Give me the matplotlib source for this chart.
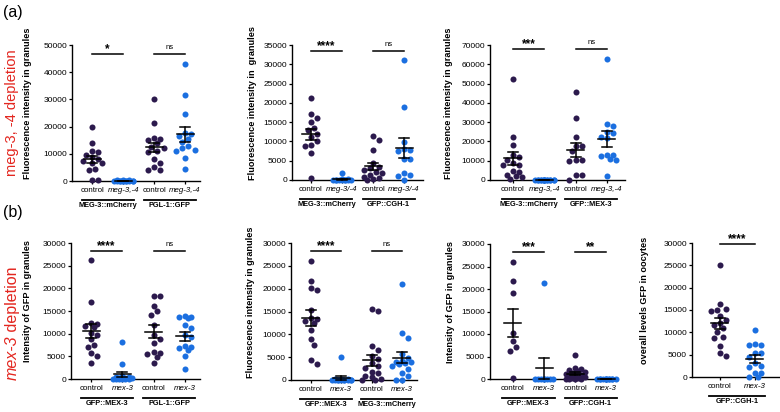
import numpy as np
import matplotlib.pyplot as plt

plt.rcParams['font.family'] = ['Liberation Sans', 'DejaVu Sans']

W, H = 780, 412
PURPLE = '#2c1a4d'
BLUE = '#1b6fe0'
RED = '#e3261f'

# ---- data ----
# (a) meg-3,-4 depletion
a1_meg3_ctrl = [20000, 13800, 11000, 10500, 9500, 9000, 8000, 7500, 6500, 6500, 4300, 4200, 500, 300]
a1_meg3_rnai = [300, 250, 200, 150, 100, 100, 50, 50, 0, 0, 0, 0, 0, 0]
a1_pgl1_ctrl = [30000, 21300, 15800, 15500, 15000, 13800, 12500, 12000, 11000, 10500, 8000, 6500, 5000, 4200, 4000]
a1_pgl1_rnai = [43000, 31500, 24500, 17500, 17200, 16500, 15500, 14500, 13000, 12000, 11500, 11000, 8500, 4300]

a2_meg3_ctrl = [21200, 17200, 16100, 15000, 13500, 13000, 12000, 11200, 10000, 9000, 8800, 6900, 500]
a2_meg3_rnai = [1900, 200, 150, 100, 100, 50, 50, 0, 0, 0, 0, 0]
a2_cgh1_ctrl = [11300, 10300, 7900, 4500, 3500, 3000, 2500, 2000, 1800, 1200, 800, 400, 200, 100]
a2_cgh1_rnai = [31200, 18900, 9800, 8100, 7900, 7600, 5500, 5400, 1900, 1300, 1100, 0]

a3_meg3_ctrl = [52500, 22500, 18000, 13000, 12000, 10500, 9000, 8000, 8000, 4500, 4200, 2500, 2200, 1800, 300]
a3_meg3_rnai = [200, 150, 100, 100, 50, 50, 0, 0, 0, 0, 0, 0, 0, 0, 0]
a3_mex3_ctrl = [45800, 32400, 22300, 17800, 17500, 15000, 10500, 10300, 10000, 2500, 2400, 0]
a3_mex3_rnai = [62500, 28800, 28200, 25000, 24500, 22500, 21800, 13000, 12800, 12500, 10800, 10500, 2300]

# (b) mex-3 depletion
b1_mex3_ctrl = [26200, 16900, 12400, 12200, 11800, 11500, 10200, 9800, 8800, 7600, 7100, 5700, 5000, 3600]
b1_mex3_rnai = [8100, 3400, 600, 500, 400, 300, 200, 200, 100, 100, 0, 0, 0, 0]
b1_pgl1_ctrl = [18400, 18200, 16200, 15000, 14200, 12000, 9700, 8800, 7900, 5900, 5800, 5600, 4900, 3500]
b1_pgl1_rnai = [14000, 13700, 13600, 13500, 12000, 11200, 9800, 9300, 7300, 7100, 6800, 6400, 5000, 2100]

b2_mex3_ctrl = [26100, 21600, 20100, 19600, 15400, 13500, 13300, 13000, 12400, 11000, 8900, 7700, 4400, 3600]
b2_mex3_rnai = [5100, 300, 200, 200, 100, 100, 100, 0, 0, 0, 0, 0, 0, 0]
b2_meg3_ctrl = [15600, 15100, 7400, 6500, 5200, 4600, 3700, 3000, 2600, 1800, 1500, 800, 600, 200, 0, 0]
b2_meg3_rnai = [21000, 10400, 9300, 5800, 4800, 4200, 4000, 4000, 3800, 3500, 3000, 2500, 1500, 800, 0, 0]

b3_mex3_ctrl = [26100, 21700, 19100, 10300, 8400, 7200, 6300, 200]
b3_mex3_rnai = [21400, 0, 0, 0, 0, 0, 0, 0, 0]
b3_cgh1_ctrl = [5400, 2500, 2200, 2000, 1800, 1500, 1400, 1200, 1000, 800, 600, 500, 300, 200, 100, 0, 0, 0]
b3_cgh1_rnai = [100, 80, 50, 50, 0, 0, 0, 0, 0, 0, 0, 0]

b4_cgh1_ctrl = [25100, 16300, 15300, 15100, 14700, 13600, 12700, 12200, 11700, 11000, 10000, 9000, 8800, 6900, 5400, 4600]
b4_cgh1_rnai = [10600, 7300, 7200, 7100, 5400, 5300, 4500, 3100, 2500, 2300, 900, 800, 0, 0]

ctrl_rnai_a = ['control', 'meg-3,-4', 'control', 'meg-3,-4']
ctrl_rnai_a2 = ['control', 'meg-3/-4', 'control', 'meg-3/-4']
ctrl_rnai_b = ['control', 'mex-3', 'control', 'mex-3']


def swarm(vals, py, px, d=6.3, maxw=12):
    # simple deterministic beeswarm in pixel space
    vals = np.asarray(vals, float)
    ys = vals * py
    cands = [0.0]
    k = 1
    while k * d / 2 <= maxw:
        cands += [k * d / 2, -k * d / 2]
        k += 1
    placed = []
    offs = np.zeros(len(vals))
    for i in np.argsort(-vals, kind='stable'):
        pick, best, bestd = None, 0.0, -1
        for c in cands:
            if not placed:
                pick = c
                break
            dist = min(np.hypot(c - a, ys[i] - b) for a, b in placed)
            if dist >= d * 0.98:
                pick = c
                break
            if dist > bestd:
                bestd, best = dist, c
        if pick is None:
            pick = best
        placed.append((pick, ys[i]))
        offs[i] = pick / px
    return offs


def panel(rect, xlim, ymax, ystep, groups, labels, pairs, sig, ylabel, ylab_x, under):
    l, t, r, b = rect
    ax = fig.add_axes([l / W, 1 - b / H, (r - l) / W, (b - t) / H])
    hpx = b - t
    wpx = r - l
    px_unit = wpx / (xlim[1] - xlim[0])
    py = hpx / ymax
    for i, (vals, col) in enumerate(groups):
        vals = np.asarray(vals, float)
        xo = swarm(vals, py, px_unit)
        ax.scatter(i + xo, vals, s=19, color=col, lw=0, zorder=3, clip_on=False)
        m = vals.mean()
        sem = vals.std(ddof=1) / np.sqrt(len(vals))
        hw = 8.5 / px_unit
        cw = 5 / px_unit
        ax.plot([i - hw, i + hw], [m, m], color='black', lw=1.1, zorder=4, clip_on=False)
        ax.plot([i, i], [m - sem, m + sem], color='black', lw=1.1, zorder=4, clip_on=False)
        for yy in (m - sem, m + sem):
            ax.plot([i - cw, i + cw], [yy, yy], color='black', lw=1.1, zorder=4, clip_on=False)
    ax.set_xlim(*xlim)
    ax.set_ylim(0, ymax)
    ax.set_yticks(np.arange(0, ymax + 1, ystep))
    ax.set_xticks(range(len(groups)))
    ax.set_xticklabels(labels, fontsize=5.7)
    for j, tl in enumerate(ax.get_xticklabels()):
        if j % 2 == 1:
            tl.set_fontstyle('italic')
    ax.tick_params(axis='y', labelsize=6, length=2.5, width=0.9, pad=1)
    ax.tick_params(axis='x', length=2.5, width=0.9, pad=2)
    for s in ('top', 'right'):
        ax.spines[s].set_visible(False)
    for s in ('left', 'bottom'):
        ax.spines[s].set_linewidth(1.0)
    ax.set_ylabel(ylabel, fontsize=6.6, fontweight='bold')
    ax.yaxis.set_label_coords(-(l - ylab_x) / wpx, 0.57)

    trans = ax.get_xaxis_transform()
    for (g0, g1), txt, (line_top, under_txt) in zip(pairs, sig, under):
        # significance bar
        yl = 1 - line_top / hpx
        ax.plot([g0, g1], [yl, yl], transform=trans, color='black', lw=1.1, clip_on=False)
        if txt == 'ns':
            ax.text((g0 + g1) / 2, yl + 3 / hpx, txt, transform=trans, ha='center', va='bottom', fontsize=5.5)
        else:
            ax.text((g0 + g1) / 2, yl - 1.5 / hpx, txt, transform=trans, ha='center', va='bottom',
                    fontsize=8.5, fontweight='bold')
        # strain label under the pair
        ext = 10.5 / px_unit
        yg = -19 / hpx
        ax.plot([g0 - ext, g1 + ext], [yg, yg], transform=trans, color='black', lw=1.3, clip_on=False)
        ax.text((g0 + g1) / 2, -21 / hpx, under_txt, transform=trans, ha='center', va='top',
                fontsize=5.3, fontweight='bold')
    return ax


fig = plt.figure(figsize=(W / 100, H / 100), dpi=100)

# row (a)
panel((72, 45, 200, 181), (-0.65, 3.48), 50000, 10000,
      [(a1_meg3_ctrl, PURPLE), (a1_meg3_rnai, BLUE), (a1_pgl1_ctrl, PURPLE), (a1_pgl1_rnai, BLUE)],
      ctrl_rnai_a, [(0, 1), (2, 3)], ['*', 'ns'],
      'Fluorescence intensity in granules', 32,
      [(9, 'MEG-3::mCherry'), (9, 'PGL-1::GFP')])
panel((292, 45, 423, 180), (-0.61, 3.61), 35000, 5000,
      [(a2_meg3_ctrl, PURPLE), (a2_meg3_rnai, BLUE), (a2_cgh1_ctrl, PURPLE), (a2_cgh1_rnai, BLUE)],
      ctrl_rnai_a2, [(0, 1), (2, 3)], ['****', 'ns'],
      'Fluorescence intensity in  granules', 257,
      [(6, 'MEG-3::mCherry'), (6, 'GFP::CGH-1')])
panel((490, 45, 625, 180), (-0.73, 3.58), 70000, 10000,
      [(a3_meg3_ctrl, PURPLE), (a3_meg3_rnai, BLUE), (a3_mex3_ctrl, PURPLE), (a3_mex3_rnai, BLUE)],
      ctrl_rnai_a, [(0, 1), (2, 3)], ['***', 'ns'],
      'Fluorescence intensity in granules', 453,
      [(4, 'MEG-3::mCherry'), (4, 'GFP::MEX-3')])

# row (b)
panel((71, 243, 200, 379), (-0.64, 3.48), 30000, 5000,
      [(b1_mex3_ctrl, PURPLE), (b1_mex3_rnai, BLUE), (b1_pgl1_ctrl, PURPLE), (b1_pgl1_rnai, BLUE)],
      ctrl_rnai_b, [(0, 1), (2, 3)], ['****', 'ns'],
      'Intensity of GFP in granules', 32,
      [(8, 'GFP::MEX-3'), (8, 'PGL-1::GFP')])
panel((291, 243, 417, 380), (-0.66, 3.50), 30000, 5000,
      [(b2_mex3_ctrl, PURPLE), (b2_mex3_rnai, BLUE), (b2_meg3_ctrl, PURPLE), (b2_meg3_rnai, BLUE)],
      ctrl_rnai_b, [(0, 1), (2, 3)], ['****', 'ns'],
      'Fluorescence intensity in granules', 255,
      [(8, 'GFP::MEX-3'), (8, 'MEG-3::mCherry')])
panel((490, 244, 617, 379), (-0.74, 3.35), 30000, 5000,
      [(b3_mex3_ctrl, PURPLE), (b3_mex3_rnai, BLUE), (b3_cgh1_ctrl, PURPLE), (b3_cgh1_rnai, BLUE)],
      ctrl_rnai_b, [(0, 1), (2, 3)], ['***', '**'],
      'Intensity of GFP in granules', 455,
      [(8, 'GFP::MEX-3'), (8, 'GFP::CGH-1')])
panel((692, 243, 779, 377), (-0.8, 1.69), 30000, 5000,
      [(b4_cgh1_ctrl, PURPLE), (b4_cgh1_rnai, BLUE)],
      ['control', 'mex-3'], [(0, 1)], ['****'],
      'overall levels GFP in oocytes', 649,
      [(0.5, 'GFP::CGH-1')])

# panel letters and side labels
fig.text(3 / W, 1 - 12 / H, '(a)', fontsize=11.5, va='center', ha='left')
fig.text(3 / W, 1 - 213 / H, '(b)', fontsize=11.5, va='center', ha='left')
fig.text(12 / W, 1 - 176 / H, 'meg-3, -4 depletion', rotation=90, color=RED,
         fontsize=10.5, ha='center', va='bottom')
t1 = fig.text(12 / W, 1 - 380 / H, 'mex-3', rotation=90, color=RED, fontsize=11.5,
              fontstyle='italic', ha='center', va='bottom')
fig.canvas.draw()
bb = t1.get_window_extent()
fig.text(12 / W, bb.y1 / H, ' depletion', rotation=90, color=RED, fontsize=11.5,
         ha='center', va='bottom')

fig.savefig('out.png', dpi=100, facecolor='white')
